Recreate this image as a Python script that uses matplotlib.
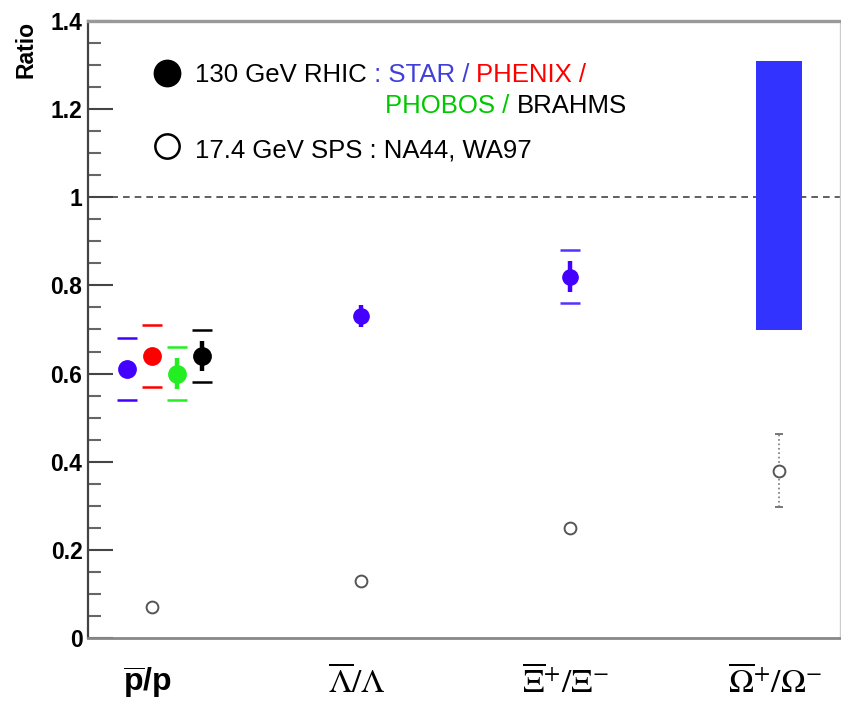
import numpy as np
import matplotlib
matplotlib.use('Agg')
import matplotlib.pyplot as plt
import matplotlib.transforms as mtransforms

plt.rcParams['font.family'] = ['Liberation Sans', 'DejaVu Sans']
plt.rcParams['mathtext.fontset'] = 'custom'
plt.rcParams['mathtext.rm'] = 'Liberation Sans'
plt.rcParams['mathtext.bf'] = 'Liberation Sans:bold'

# particle ratio categories
cat_x = [0, 1, 2, 3]
cat_labels = [r'$\overline{\mathbf{p}}\mathbf{/p}$',
              r'$\overline{\Lambda}/\Lambda$',
              r'$\overline{\Xi}^{+}/\Xi^{-}$',
              r'$\overline{\Omega}^{+}/\Omega^{-}$']

# 130 GeV RHIC pbar/p : STAR, PHENIX, PHOBOS, BRAHMS
rhic_pp_offset = [-0.12, 0.0, 0.12, 0.24]
rhic_pp_val = [0.61, 0.64, 0.60, 0.64]
rhic_pp_stat = [0.0, 0.0, 0.035, 0.035]
rhic_pp_sys = [0.07, 0.07, 0.06, 0.06]
rhic_pp_color = ['#4400ff', '#ff0000', '#22ee22', '#000000']

# STAR hyperon ratios (Lambda, Xi)
star_hyp_x = [1, 2]
star_hyp_val = [0.73, 0.82]
star_hyp_stat = [0.025, 0.035]
star_hyp_sys = [0.0, 0.06]

# STAR Omega ratio, allowed range
star_omega_lo = 0.70
star_omega_hi = 1.31

# 17.4 GeV SPS : NA44, WA97
sps_val = [0.07, 0.13, 0.25, 0.38]
sps_err = [0.0, 0.0, 0.0, 0.083]

fig = plt.figure(figsize=(8.41, 7.06), dpi=100)
ax = fig.add_axes([88/841, 68/706, 752/841, 617/706])
ax.set_xlim(-0.306, 3.29)
ax.set_ylim(0, 1.4)

cap_hw = 0.048

# Omega range box
ax.bar(cat_x[3], star_omega_hi - star_omega_lo, bottom=star_omega_lo,
       width=0.22, color='#3333ff', zorder=2)

# RHIC pbar/p points
for off, v, st, sy, c in zip(rhic_pp_offset, rhic_pp_val, rhic_pp_stat,
                             rhic_pp_sys, rhic_pp_color):
    x = cat_x[0] + off
    if st > 0:
        ax.vlines(x, v - st, v + st, color=c, lw=3.2, zorder=3)
    ax.hlines([v - sy, v + sy], x - cap_hw, x + cap_hw, color=c, lw=1.8, zorder=3)
    ax.plot(x, v, 'o', color=c, ms=12.5, mec=c, zorder=4)

# STAR hyperons
for x, v, st, sy in zip(star_hyp_x, star_hyp_val, star_hyp_stat, star_hyp_sys):
    ax.vlines(x, v - st, v + st, color='#4400ff', lw=3.2, zorder=3)
    if sy > 0:
        ax.hlines([v - sy, v + sy], x - cap_hw, x + cap_hw,
                  color='#5533ff', lw=1.8, zorder=3)
    ax.plot(x, v, 'o', color='#4400ff', ms=11, zorder=4)

# SPS points
eb = ax.errorbar(cat_x, sps_val, yerr=sps_err, fmt='o', ms=8.5, mfc='white',
                 mec='#555555', mew=1.4, ecolor='#777777', elinewidth=1.2,
                 capsize=3, capthick=1.8, zorder=4)
for bl in eb[2]:
    bl.set_linestyle(':')

# reference line at unity
ax.axhline(1.0, color='#444444', lw=1.2, ls=(0, (4, 3)), zorder=1)

# axes frame
ax.spines['left'].set_color('#444444')
ax.spines['left'].set_linewidth(1.6)
ax.spines['bottom'].set_color('#888888')
ax.spines['bottom'].set_linewidth(2)
ax.spines['top'].set_color('#999999')
ax.spines['top'].set_linewidth(2.4)
ax.spines['right'].set_color('#cccccc')
ax.spines['right'].set_linewidth(1)

ax.set_yticks(np.arange(0, 1.41, 0.2))
ax.set_yticks(np.arange(0, 1.41, 0.05), minor=True)
ax.set_yticklabels(['0', '0.2', '0.4', '0.6', '0.8', '1', '1.2', '1.4'],
                   fontsize=16.5, fontweight='bold')
ax.tick_params(axis='y', which='major', direction='in', length=18,
               width=1.5, color='#444444', pad=4)
ax.tick_params(axis='y', which='minor', direction='in', length=9,
               width=1.5, color='#666666')
ax.set_xticks([])

ax.text(-0.082, 1.0, 'Ratio', transform=ax.transAxes, rotation=90,
        ha='center', va='top', fontsize=16.5, fontweight='bold')

# category labels below the axis
trans = mtransforms.blended_transform_factory(ax.transData, ax.transAxes)
ax.text(cat_x[0] - 0.02, -0.073, cat_labels[0], transform=trans,
        ha='center', va='center', fontsize=23)
for x, lab in zip(cat_x[1:], cat_labels[1:]):
    ax.text(x - 0.02, -0.073, lab, transform=trans, ha='center',
            va='center', fontsize=24, math_fontfamily='stix')

# legend
ax.plot(0.105, 0.9157, 'o', color='black', ms=19, transform=ax.transAxes,
        clip_on=False)
ax.plot(0.105, 0.797, 'o', mfc='white', mec='black', mew=1.8, ms=17.5,
        transform=ax.transAxes, clip_on=False)

fs = 18.5
t = ax.text(0.1423, 0.901, '130 GeV RHIC', transform=ax.transAxes,
            fontsize=fs, va='baseline')
t = ax.annotate(' : STAR / ', xy=(1, 0), xycoords=t, va='bottom',
                fontsize=fs, color='#4040d8')
t = ax.annotate('PHENIX /', xy=(1, 0), xycoords=t, va='bottom',
                fontsize=fs, color='#ff0000')
t = ax.text(0.395, 0.851, 'PHOBOS / ', transform=ax.transAxes,
            fontsize=fs, va='baseline', color='#00c800')
ax.annotate('BRAHMS', xy=(1, 0), xycoords=t, va='bottom', fontsize=fs,
            color='black')
ax.text(0.1423, 0.779, '17.4 GeV SPS : NA44, WA97', transform=ax.transAxes,
        fontsize=fs, va='baseline')

fig.savefig('out.png', dpi=100)
